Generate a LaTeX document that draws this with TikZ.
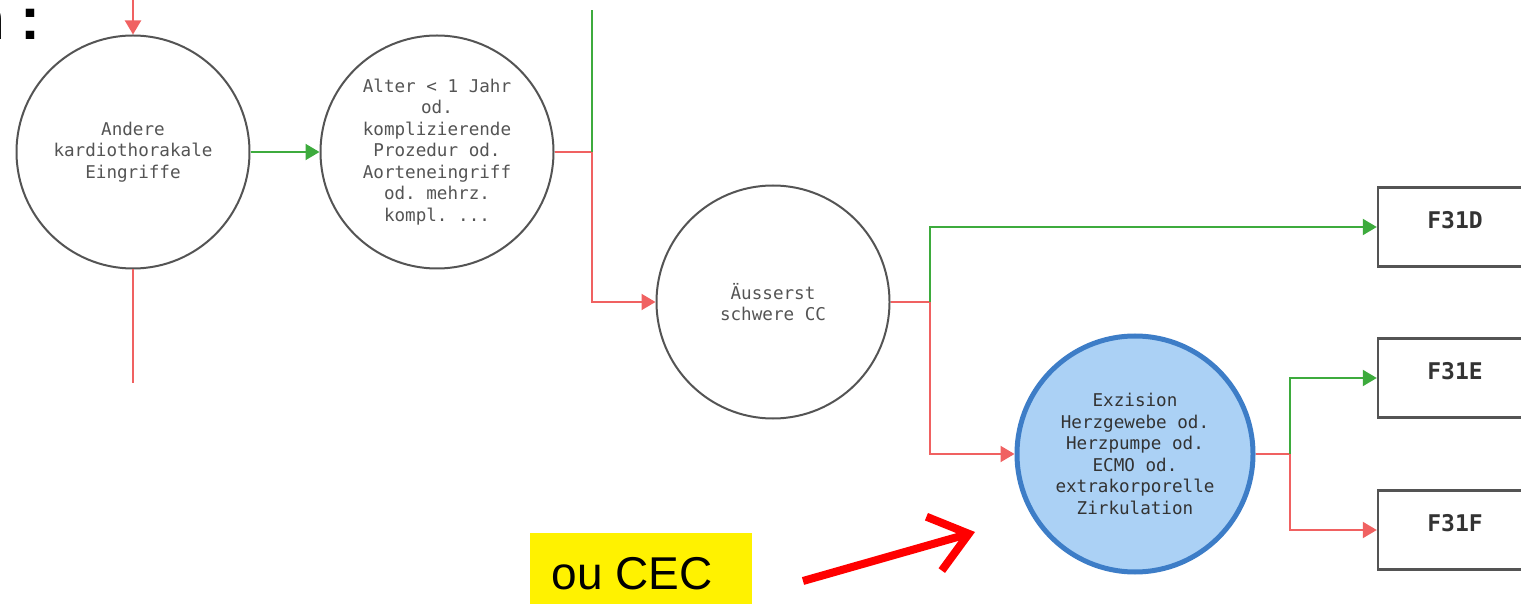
\documentclass[tikz,border=0pt]{standalone}
\usepackage{fontspec}
\setmonofont{DejaVu Sans Mono}
\setsansfont{Liberation Sans}
\usepackage{tikz}
\usetikzlibrary{arrows.meta, positioning}
\definecolor{lightred}{rgb}{0.94, 0.38, 0.38}
\definecolor{leafgreen}{rgb}{0.24, 0.67, 0.24}
\definecolor{skyfill}{rgb}{0.67, 0.82, 0.96}
\definecolor{skyborder}{rgb}{0.24, 0.49, 0.78}
\definecolor{darkgrey}{rgb}{0.33, 0.33, 0.33}

\begin{document}
\begin{tikzpicture}[x=0.5pt, y=-0.5pt]
			\tikzstyle{decision}=[circle, draw=darkgrey, line width=1pt, minimum size=116.5pt, inner sep=0pt, align=center, text=darkgrey, font=\ttfamily\fontsize{8.8}{10.75}\selectfont]
			\tikzstyle{result}=[rectangle, draw=darkgrey, line width=1.2pt, minimum width=77pt, minimum height=39.5pt, text depth=7pt, text=black!80, font=\ttfamily\bfseries\fontsize{11.5}{13}\selectfont]
			\tikzstyle{yes}=[leafgreen, line width=1pt, -{Triangle[length=7pt, width=8pt]}]
			\tikzstyle{no}=[lightred, line width=1pt, -{Triangle[length=7pt, width=8pt]}]
			%%
			\useasboundingbox (0,0) rectangle (1521,604);
			
			\node (head) at (41,40) [anchor=base east, inner sep=0pt, font=\sffamily\bfseries\fontsize{30}{32}\selectfont] {n\kern7.5pt:};
			
			\node (k1) at (133,152) [decision] {Andere\\kardiothorakale\\Eingriffe};
			\node (k2) at (437,152) [decision] {Alter < 1 Jahr\\od.\\komplizierende\\Prozedur od.\\Aorteneingriff\\od. mehrz.\\kompl. ...};
			\node (k3) at (773,302) [decision] {Äusserst\\schwere CC};
			\node (k4) at (1135,454) [decision, fill=skyfill, draw=skyborder, line width=2.5pt, minimum size=118pt, text=black!80] {Exzision\\Herzgewebe od.\\Herzpumpe od.\\ECMO od.\\extrakorporelle\\Zirkulation};
			
			\node (f31d) at (1455,227) [result] {F31D};
			\node (f31e) at (1455,378) [result] {F31E};
			\node (f31f) at (1455,530) [result] {F31F};
			
			\node (cec) at (641,568) [fill=yellow, minimum width=111pt, minimum height=35.5pt, text height=22pt, inner sep=0pt, font=\sffamily\fontsize{23}{26}\selectfont] {ou CEC\hspace*{9pt}};
			
			\coordinate (in1) at (133,0);
			\coordinate (out1) at (133,383);
			\coordinate (j1) at (592,152);
			\coordinate (up1) at (592,10);
			\coordinate (j2) at (930,302);
			\coordinate (j3) at (1290,454);
			\coordinate (a1) at (803,581);
			\coordinate (a2) at (975,532);
			
			\draw [no] (in1) -- (k1.north);
			\draw [lightred, line width=1pt] (k1.south) -- (out1);
			\draw [yes] (k1.east) -- (k2.west);
			
			\draw [lightred, line width=1pt] (k2.east) -- (j1);
			\draw [leafgreen, line width=1pt] (j1) -- (up1);
			\draw [no] (j1) |- (k3.west);
			
			\draw [lightred, line width=1pt] (k3.east) -- (j2);
			\draw [yes] (j2) |- (f31d.west);
			\draw [no] (j2) |- (k4.west);
			
			\draw [lightred, line width=1pt] (k4.east) -- (j3);
			\draw [yes] (j3) |- (f31e.west);
			\draw [no] (j3) |- (f31f.west);
			
			\draw [red, line width=4pt, -{Straight Barb[length=18pt, width=28pt, line width=4pt]}] (a1) -- (a2);
\end{tikzpicture}
\end{document}
